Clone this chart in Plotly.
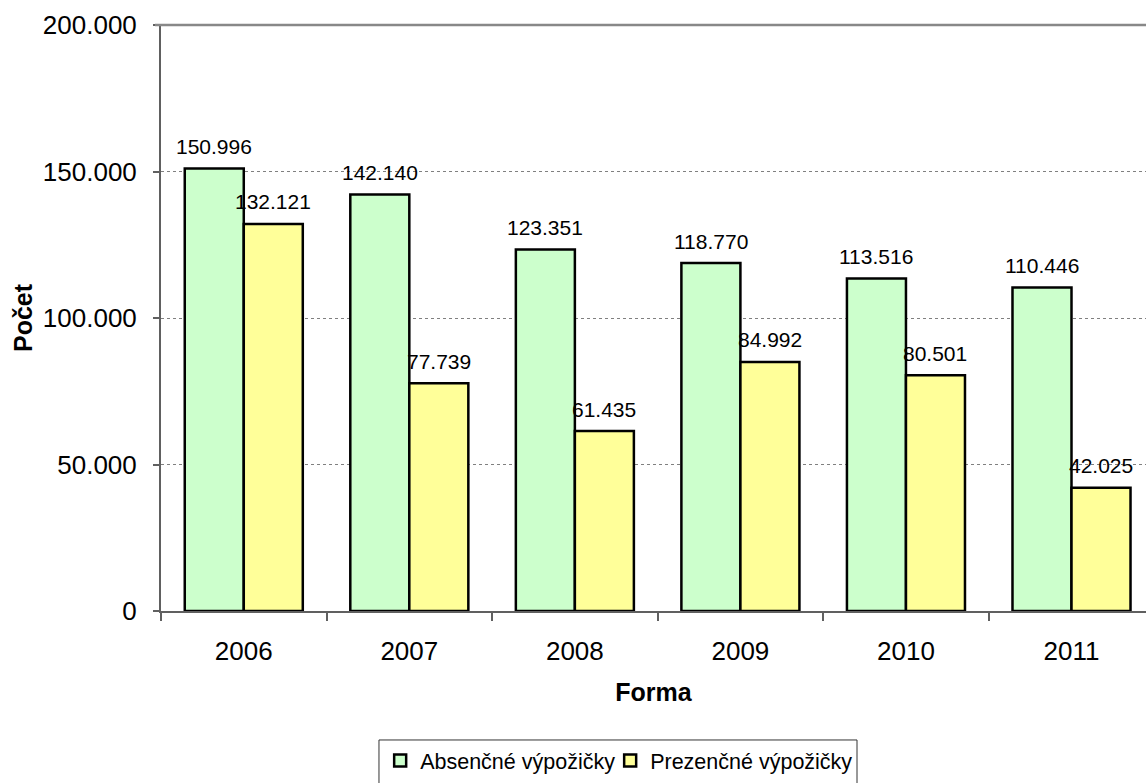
import plotly.graph_objects as go

years = ["2006", "2007", "2008", "2009", "2010", "2011"]
absencne = [150996, 142140, 123351, 118770, 113516, 110446]
prezencne = [132121, 77739, 61435, 84992, 80501, 42025]
series_names = ["Absenčné výpožičky", "Prezenčné výpožičky"]
y_ticks = [0, 50000, 100000, 150000, 200000]


def fmt(v):
    return f"{v:,}".replace(",", ".")


FONT = "Liberation Sans, Arial, sans-serif"
GREEN = "#CCFFCC"
YELLOW = "#FFFF99"
AXIS = "#606060"
BARGAP = 0.287

fig = go.Figure()
fig.add_trace(go.Bar(x=years, y=absencne, name=series_names[0], legend="legend",
                     marker=dict(color=GREEN, line=dict(color="black", width=2.5))))
fig.add_trace(go.Bar(x=years, y=prezencne, name=series_names[1], legend="legend2",
                     marker=dict(color=YELLOW, line=dict(color="black", width=2.5))))

# data labels above each bar
bw = (1 - BARGAP) / 2
annotations = []
for i, (a, p) in enumerate(zip(absencne, prezencne)):
    for off, v in ((-bw / 2, a), (bw / 2, p)):
        annotations.append(dict(x=i + off, y=v, xref="x", yref="y", text=fmt(v),
                                showarrow=False, yshift=22,
                                font=dict(family=FONT, size=21, color="black")))

legend_style = dict(orientation="h", xanchor="left", y=-0.22, yanchor="top",
                    borderwidth=0, bgcolor="rgba(0,0,0,0)",
                    font=dict(family=FONT, size=21.5, color="black"),
                    itemwidth=30, tracegroupgap=0)

fig.update_layout(
    width=1146, height=783,
    margin=dict(l=161, r=0, t=25, b=172, autoexpand=False),
    paper_bgcolor="white", plot_bgcolor="white",
    barmode="group", bargap=BARGAP, bargroupgap=0,
    font=dict(family=FONT, color="black"),
    annotations=annotations,
    showlegend=True,
    legend=dict(x=0.2225, **legend_style),
    legend2=dict(x=0.4560, **legend_style),
    xaxis=dict(type="category", range=[-0.5, 5.45], automargin=False,
               showline=True, linecolor=AXIS, linewidth=2,
               ticks="outside", tickson="boundaries", ticklen=8, tickcolor=AXIS, tickwidth=1.5,
               tickfont=dict(family=FONT, size=26, color="black"),
               ticklabelstandoff=16,
               showgrid=False, zeroline=False,
               title=dict(text="<b>Forma</b>", font=dict(family=FONT, size=25, color="black"),
                          standoff=18)),
    yaxis=dict(range=[0, 200000], tickvals=y_ticks, ticktext=[fmt(v) for v in y_ticks],
               automargin=False,
               showline=True, linecolor=AXIS, linewidth=2,
               ticks="outside", ticklen=6, tickcolor=AXIS, tickwidth=1.5,
               tickfont=dict(family=FONT, size=26, color="black"),
               ticklabelstandoff=11,
               showgrid=True, gridcolor="#808080", gridwidth=1, griddash="dot",
               zeroline=False,
               title=dict(text="<b>Počet</b>", font=dict(family=FONT, size=25, color="black"),
                          standoff=3)),
    shapes=[
        dict(type="line", xref="paper", yref="paper", x0=-6 / 985, x1=1, y0=1, y1=1,
             line=dict(color="#888888", width=2.5)),
        # legend frame
        dict(type="rect", xref="paper", yref="paper", x0=0.2213, x1=0.7066,
             y0=-0.2201, y1=-0.32, line=dict(color="#333333", width=1),
             fillcolor="rgba(0,0,0,0)"),
    ],
)

fig.write_html("out.html", config={"displayModeBar": False},
               post_script="document.body.style.margin='0';document.body.style.overflow='hidden';")
